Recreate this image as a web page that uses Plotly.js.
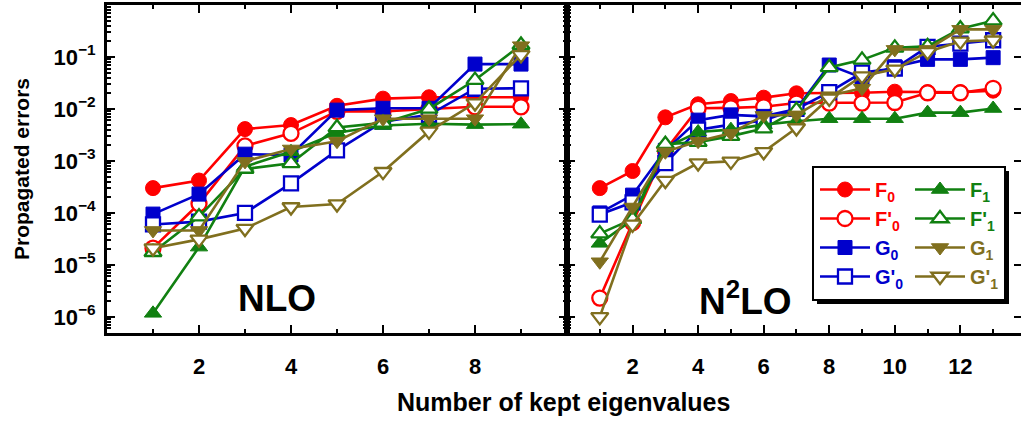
<!DOCTYPE html>
<html><head><meta charset="utf-8">
<script src="https://cdn.plot.ly/plotly-3.0.1.min.js"></script>
<style>html,body{margin:0;padding:0;background:#fff}#plot{width:1021px;height:423px}</style>
</head><body><div id="plot"></div>
<script>
// ---- data: NLO panel (left) ----
const nloX   = [1, 2, 3, 4, 5, 6, 7, 8, 9];
const nloF0  = [3.0e-4, 4.2e-4, 4.1e-3, 4.9e-3, 1.15e-2, 1.58e-2, 1.68e-2, 1.68e-2, 1.68e-2];
const nloFp0 = [2.1e-5, 1.5e-4, 1.95e-3, 3.4e-3, 9.0e-3, 9.0e-3, 1.0e-2, 1.1e-2, 1.1e-2];
const nloG0  = [9.5e-5, 2.3e-4, 1.35e-3, 1.3e-3, 9.5e-3, 1.03e-2, 1.03e-2, 7.3e-2, 7.3e-2];
const nloGp0 = [6.0e-5, 6.8e-5, 1.0e-4, 3.7e-4, 1.6e-3, 5.7e-3, 7.7e-3, 2.45e-2, 2.5e-2];
const nloF1  = [1.17e-6, 2.2e-5, 7.8e-4, 1.5e-3, 3.5e-3, 4.8e-3, 5.2e-3, 5.0e-3, 5.1e-3];
const nloFp1 = [1.75e-5, 8.5e-5, 7.0e-4, 9.0e-4, 4.4e-3, 5.4e-3, 1.0e-2, 3.6e-2, 1.7e-1];
const nloG1  = [4.6e-5, 4.6e-5, 9.8e-4, 1.7e-3, 2.4e-3, 6.5e-3, 6.5e-3, 6.5e-3, 1.65e-1];
const nloGp1 = [2.1e-5, 3.1e-5, 5.0e-5, 1.3e-4, 1.48e-4, 6.2e-4, 3.7e-3, 1.3e-2, 1.1e-1];

// ---- data: N2LO panel (right) ----
const n2loX   = [1, 2, 3, 4, 5, 6, 7, 8, 9, 10, 11, 12, 13];
const n2loF0  = [3.0e-4, 6.4e-4, 6.9e-3, 1.23e-2, 1.42e-2, 1.65e-2, 2.0e-2, 2.0e-2, 2.05e-2, 2.15e-2, 2.1e-2, 2.1e-2, 2.25e-2];
const n2loFp0 = [2.3e-6, 6.5e-5, 1.6e-3, 1.03e-2, 1.05e-2, 1.1e-2, 1.3e-2, 1.3e-2, 1.3e-2, 1.33e-2, 2.05e-2, 2.05e-2, 2.5e-2];
const n2loG0  = [1.0e-4, 2.2e-4, 1.6e-3, 6.1e-3, 7.7e-3, 7.2e-3, 1.0e-2, 7.0e-2, 4.0e-2, 6.5e-2, 9.0e-2, 9.0e-2, 9.7e-2];
const n2loGp0 = [9.3e-5, 1.6e-4, 9.1e-4, 4.0e-3, 5.0e-3, 6.0e-3, 1.0e-2, 2.1e-2, 5.0e-2, 6.0e-2, 1.57e-1, 1.8e-1, 2.1e-1];
const n2loF1  = [2.6e-5, 7.4e-5, 1.8e-3, 3.6e-3, 4.0e-3, 5.0e-3, 5.8e-3, 6.5e-3, 6.5e-3, 6.5e-3, 8.5e-3, 8.5e-3, 1.02e-2];
const n2loFp1 = [4.0e-5, 7.6e-5, 2.1e-3, 2.3e-3, 3.0e-3, 4.2e-3, 9.5e-3, 6.3e-2, 8.8e-2, 1.5e-1, 1.6e-1, 3.5e-1, 5.0e-1];
const n2loG1  = [1.15e-5, 1.3e-4, 1.5e-3, 2.4e-3, 3.4e-3, 7.5e-3, 7.7e-3, 1.8e-2, 2.5e-2, 1.4e-1, 1.4e-1, 3.4e-1, 3.4e-1];
const n2loGp1 = [1.0e-6, 6.0e-5, 4.2e-4, 9.1e-4, 9.8e-4, 1.5e-3, 4.3e-3, 1.6e-2, 4.3e-2, 5.8e-2, 1.25e-1, 2.0e-1, 2.1e-1];

// ---- labels ----
const seriesLabels = ["F<sub>0</sub>", "F'<sub>0</sub>", "G<sub>0</sub>", "G'<sub>0</sub>",
                      "F<sub>1</sub>", "F'<sub>1</sub>", "G<sub>1</sub>", "G'<sub>1</sub>"];
const panelLabels = ["NLO", "N<sup>2</sup>LO"];
const yTickExps = [-6, -5, -4, -3, -2, -1];
const nloXTicks = [2, 4, 6, 8];
const n2loXTicks = [2, 4, 6, 8, 10, 12];
const xTitle = "Number of kept eigenvalues";
const yTitle = "Propagated errors";

// ---- styles ----
const RED = '#ff0000', BLUE = '#0000cc', GREEN = '#118011', OLIVE = '#806f1e';
const FONT = '"Liberation Sans", Arial, sans-serif';
const styles = [
  {color: RED, symbol: 'circle', open: false},
  {color: RED, symbol: 'circle', open: true},
  {color: BLUE, symbol: 'square', open: false},
  {color: BLUE, symbol: 'square', open: true},
  {color: GREEN, symbol: 'triangle-up', open: false},
  {color: GREEN, symbol: 'triangle-up', open: true},
  {color: OLIVE, symbol: 'triangle-down', open: false},
  {color: OLIVE, symbol: 'triangle-down', open: true}
];
const nloY = [nloF0, nloFp0, nloG0, nloGp0, nloF1, nloFp1, nloG1, nloGp1];
const n2loY = [n2loF0, n2loFp0, n2loG0, n2loGp0, n2loF1, n2loFp1, n2loG1, n2loGp1];

function mk(x, y, i, xa, ya, showlegend) {
  const s = styles[i];
  return {
    type: 'scatter', mode: 'lines+markers', x: x, y: y, xaxis: xa, yaxis: ya,
    name: '<span style="color:' + s.color + '">' + seriesLabels[i] + '</span>',
    legendgroup: 'g' + i, showlegend: showlegend,
    legend: i < 4 ? 'legend' : 'legend2',
    line: {color: s.color, width: 2.6},
    marker: {symbol: s.symbol, size: s.symbol === 'square' ? 14 : 15,
             color: s.open ? '#ffffff' : s.color,
             line: {color: s.color, width: s.open ? 2.3 : 1}},
    hoverinfo: 'x+y'
  };
}
const traces = [];
for (let i = 0; i < 8; i++) traces.push(mk(nloX, nloY[i], i, 'x', 'y', true));
for (let i = 0; i < 8; i++) traces.push(mk(n2loX, n2loY[i], i, 'x2', 'y2', false));
traces.push({type: 'scatter', x: [], y: [], xaxis: 'x2', yaxis: 'y3', showlegend: false, hoverinfo: 'skip'});

// geometry helpers
const W = 1021, H = 423, ML = 107, MR = 0, MT = 5, MB = 90;
const PW = W - ML - MR, PH = H - MT - MB;
const px = v => (v - ML) / PW;
const py = v => 1 - (v - MT) / PH;
const split = px(567);

const majorY = yTickExps.map(e => Math.pow(10, e));
const majorYText = yTickExps.map(e => '10<sup>\u2212' + Math.abs(e) + '</sup>');
const minorY = [];
for (let e = -7; e <= 0; e++) for (let m = 2; m <= 9; m++) minorY.push(m * Math.pow(10, e));
const oddsTo = n => { const a = []; for (let k = 1; k <= n; k += 2) a.push(k); return a; };

const tickFont = {family: FONT, size: 22, color: '#000', weight: 'bold'};
const common = {showline: true, linecolor: '#000', linewidth: 3, ticks: 'inside', tickcolor: '#000',
                tickwidth: 2, ticklen: 8, showgrid: false, zeroline: false, tickfont: tickFont};
const yBase = Object.assign({}, common, {type: 'log', range: [-6.31, 0], tickmode: 'array',
                tickvals: majorY, ticktext: majorYText,
                minor: {tickmode: 'array', tickvals: minorY, ticks: 'inside', ticklen: 4, tickwidth: 2, tickcolor: '#000', showgrid: false}});

const legendCommon = {xanchor: 'left', yanchor: 'top', bgcolor: 'rgba(0,0,0,0)', borderwidth: 0,
           font: {family: FONT, size: 20, weight: 'bold'}, itemwidth: 50, traceorder: 'grouped', tracegroupgap: 0};

const layout = {
  width: W, height: H, margin: {l: ML, r: MR, t: MT, b: MB},
  paper_bgcolor: '#fff', plot_bgcolor: '#fff', font: {family: FONT, color: '#000'},
  xaxis: Object.assign({}, common, {domain: [0, split], range: [0, 10], anchor: 'y', mirror: 'ticks',
         tickmode: 'array', tickvals: nloXTicks, ticklabelstandoff: 12,
         minor: {tickmode: 'array', tickvals: oddsTo(9), ticks: 'inside', ticklen: 4, tickwidth: 2, tickcolor: '#000', showgrid: false}}),
  xaxis2: Object.assign({}, common, {domain: [split, 1], range: [0, 13.85], anchor: 'y2', mirror: 'ticks',
         tickmode: 'array', tickvals: n2loXTicks, ticklabelstandoff: 12,
         minor: {tickmode: 'array', tickvals: oddsTo(13), ticks: 'inside', ticklen: 4, tickwidth: 2, tickcolor: '#000', showgrid: false}}),
  yaxis: Object.assign({}, yBase, {anchor: 'x', mirror: 'ticks', ticklabelstandoff: 4,
         title: {text: yTitle, font: {family: FONT, size: 21, weight: 'bold', color: '#000'}, standoff: 19}}),
  yaxis2: Object.assign({}, yBase, {anchor: 'x2', showticklabels: false}),
  yaxis3: {type: 'log', range: [-6.31, 0], overlaying: 'y2', anchor: 'x2', side: 'right', showline: false,
           ticks: 'inside', ticklen: 7, tickwidth: 2, tickcolor: '#000', tickmode: 'array', tickvals: majorY,
           showticklabels: false, showgrid: false, zeroline: false},
  showlegend: true,
  legend: Object.assign({}, legendCommon, {x: px(815), y: py(170)}),
  legend2: Object.assign({}, legendCommon, {x: px(910), y: py(170)}),
  shapes: [
    {type: 'rect', xref: 'paper', yref: 'paper', x0: px(817), x1: px(1009), y0: py(304), y1: py(171),
     fillcolor: '#000', line: {width: 0}, layer: 'above'},
    {type: 'rect', xref: 'paper', yref: 'paper', x0: px(813), x1: px(1005), y0: py(300), y1: py(167),
     fillcolor: '#fff', line: {color: '#000', width: 2}, layer: 'above'}
  ],
  annotations: [
    {xref: 'paper', yref: 'paper', x: px(277), y: py(298), text: panelLabels[0], showarrow: false,
     font: {family: FONT, size: 37, weight: 'bold', color: '#000'}, xanchor: 'center', yanchor: 'middle'},
    {xref: 'paper', yref: 'paper', x: px(745), y: py(298), text: panelLabels[1], showarrow: false,
     font: {family: FONT, size: 37, weight: 'bold', color: '#000'}, xanchor: 'center', yanchor: 'middle'},
    {xref: 'paper', yref: 'paper', x: px(563), y: py(402), text: xTitle, showarrow: false,
     font: {family: FONT, size: 25, weight: 'bold', color: '#000'}, xanchor: 'center', yanchor: 'middle'}
  ]
};
Plotly.newPlot('plot', traces, layout, {staticPlot: true, displayModeBar: false});
</script></body></html>
